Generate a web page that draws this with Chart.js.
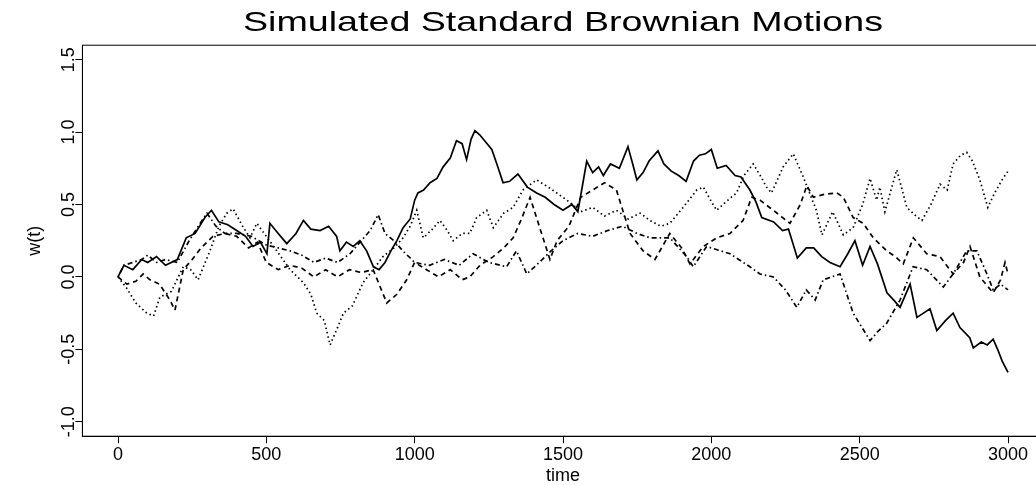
<!DOCTYPE html>
<html>
<head>
<meta charset="utf-8">
<script src="https://cdn.jsdelivr.net/npm/chart.js@4.4.0/dist/chart.umd.min.js"></script>
<style>
  html, body { margin: 0; padding: 0; background: #fff; overflow: hidden; }
  #wrap { width: 1050px; height: 485px; }
</style>
</head>
<body>
<div id="wrap"><canvas id="chartBM" width="1050" height="485"></canvas></div>
<script>
// values (time, w(t)), one pair of arrays per path
const solidTime = [0, 20, 50, 80, 100, 130, 160, 200, 230, 260, 293, 315, 340, 370, 400, 430, 455, 480, 502, 512, 540, 569, 600, 625, 650, 681, 710, 737, 748, 770, 793, 815, 838, 861, 880, 900, 920, 940, 961, 985, 1000, 1011, 1030, 1052, 1075, 1096, 1120, 1141, 1160, 1175, 1190, 1203, 1220, 1240, 1260, 1277, 1298, 1320, 1348, 1380, 1411, 1440, 1470, 1500, 1530, 1550, 1563, 1580, 1600, 1620, 1636, 1660, 1690, 1719, 1735, 1749, 1770, 1790, 1820, 1840, 1865, 1890, 1915, 1940, 1960, 1980, 2000, 2020, 2050, 2080, 2100, 2130, 2150, 2170, 2210, 2240, 2260, 2290, 2320, 2345, 2372, 2400, 2434, 2460, 2484, 2510, 2535, 2560, 2592, 2615, 2636, 2670, 2693, 2715, 2737, 2760, 2790, 2815, 2838, 2871, 2883, 2910, 2930, 2950, 2965, 2980, 3000]
const solidW = [0, 0.08, 0.05, 0.12, 0.1, 0.14, 0.08, 0.12, 0.27, 0.3, 0.41, 0.46, 0.38, 0.36, 0.32, 0.28, 0.21, 0.24, 0.16, 0.37, 0.3, 0.23, 0.3, 0.39, 0.33, 0.32, 0.35, 0.28, 0.18, 0.24, 0.21, 0.25, 0.18, 0.07, 0.05, 0.1, 0.18, 0.25, 0.34, 0.4, 0.53, 0.58, 0.6, 0.65, 0.68, 0.76, 0.82, 0.94, 0.92, 0.81, 0.95, 1.01, 0.98, 0.93, 0.88, 0.78, 0.65, 0.66, 0.71, 0.62, 0.58, 0.55, 0.5, 0.46, 0.5, 0.45, 0.6, 0.8, 0.72, 0.76, 0.7, 0.78, 0.75, 0.9, 0.78, 0.67, 0.72, 0.8, 0.87, 0.78, 0.73, 0.7, 0.66, 0.8, 0.84, 0.85, 0.88, 0.75, 0.77, 0.7, 0.69, 0.6, 0.52, 0.41, 0.38, 0.32, 0.33, 0.13, 0.2, 0.2, 0.14, 0.1, 0.07, 0.16, 0.25, 0.08, 0.21, 0.09, -0.11, -0.16, -0.21, -0.05, -0.28, -0.25, -0.22, -0.37, -0.3, -0.25, -0.35, -0.42, -0.49, -0.45, -0.47, -0.43, -0.5, -0.58, -0.66]

const dashTime = [0, 30, 60, 85, 108, 140, 175, 192, 220, 250, 280, 320, 360, 400, 440, 470, 500, 540, 580, 620, 660, 700, 740, 780, 820, 860, 890, 906, 940, 973, 1000, 1040, 1080, 1120, 1160, 1186, 1220, 1265, 1300, 1332, 1360, 1389, 1420, 1456, 1480, 1520, 1560, 1600, 1640, 1680, 1726, 1770, 1810, 1860, 1900, 1928, 1973, 2018, 2063, 2107, 2136, 2164, 2209, 2265, 2300, 2322, 2344, 2380, 2423, 2445, 2478, 2512, 2546, 2591, 2620, 2647, 2681, 2726, 2771, 2815, 2850, 2872, 2905, 2950, 2975, 2990, 3000]
const dashW = [0, -0.05, -0.03, 0.02, -0.02, -0.05, -0.16, -0.23, 0.05, 0.12, 0.2, 0.28, 0.3, 0.28, 0.2, 0.24, 0.1, 0.05, 0.08, 0.06, 0, 0.05, 0, 0.05, 0.03, 0.05, -0.1, -0.18, -0.12, -0.02, 0.1, 0.05, 0, 0.05, -0.02, 0, 0.08, 0.14, 0.2, 0.27, 0.4, 0.55, 0.35, 0.12, 0.25, 0.35, 0.55, 0.6, 0.65, 0.6, 0.3, 0.18, 0.12, 0.3, 0.2, 0.09, 0.21, 0.27, 0.3, 0.39, 0.55, 0.53, 0.46, 0.37, 0.5, 0.63, 0.55, 0.57, 0.58, 0.55, 0.41, 0.37, 0.27, 0.18, 0.14, 0.09, 0.27, 0.16, 0.14, 0.02, 0.1, 0.21, 0, -0.11, -0.02, 0.1, 0.02]

const dotTime = [0, 30, 60, 97, 120, 141, 180, 220, 245, 270, 310, 340, 367, 388, 420, 445, 468, 500, 535, 580, 625, 650, 670, 695, 715, 740, 760, 790, 826, 860, 893, 930, 961, 985, 1007, 1029, 1060, 1085, 1110, 1130, 1160, 1186, 1209, 1243, 1265, 1300, 1332, 1365, 1411, 1450, 1479, 1520, 1560, 1600, 1640, 1680, 1720, 1760, 1793, 1830, 1860, 1905, 1951, 1973, 2000, 2018, 2050, 2085, 2110, 2141, 2165, 2186, 2203, 2242, 2276, 2310, 2354, 2373, 2409, 2445, 2478, 2510, 2535, 2557, 2568, 2585, 2625, 2659, 2690, 2710, 2740, 2771, 2795, 2815, 2840, 2861, 2880, 2905, 2932, 2955, 2983, 3000]
const dotW = [0, -0.08, -0.18, -0.25, -0.27, -0.14, -0.1, 0.07, 0.05, -0.02, 0.18, 0.35, 0.44, 0.47, 0.35, 0.27, 0.37, 0.28, 0.18, 0.05, -0.04, -0.12, -0.25, -0.3, -0.47, -0.35, -0.25, -0.2, -0.04, 0.05, 0.14, 0.2, 0.27, 0.35, 0.46, 0.27, 0.33, 0.39, 0.32, 0.25, 0.3, 0.3, 0.41, 0.46, 0.34, 0.44, 0.48, 0.6, 0.67, 0.62, 0.58, 0.52, 0.45, 0.48, 0.42, 0.46, 0.4, 0.44, 0.39, 0.35, 0.37, 0.48, 0.6, 0.62, 0.52, 0.46, 0.52, 0.58, 0.7, 0.78, 0.7, 0.62, 0.58, 0.76, 0.85, 0.69, 0.46, 0.29, 0.45, 0.29, 0.34, 0.5, 0.68, 0.53, 0.62, 0.45, 0.74, 0.48, 0.42, 0.39, 0.5, 0.64, 0.6, 0.78, 0.84, 0.86, 0.8, 0.67, 0.48, 0.58, 0.68, 0.73]

const dotDashTime = [0, 20, 50, 80, 100, 130, 160, 200, 240, 280, 300, 330, 360, 400, 450, 500, 540, 580, 620, 660, 700, 740, 782, 820, 850, 877, 900, 930, 960, 1000, 1050, 1100, 1150, 1197, 1250, 1310, 1343, 1378, 1420, 1460, 1500, 1550, 1600, 1650, 1700, 1750, 1793, 1860, 1917, 1939, 1984, 2063, 2130, 2164, 2209, 2250, 2288, 2320, 2350, 2377, 2434, 2478, 2535, 2560, 2591, 2636, 2680, 2726, 2782, 2815, 2861, 2895, 2929, 2950, 2975, 3000]
const dotDashW = [0, 0.08, 0.1, 0.12, 0.15, 0.1, 0.12, 0.1, 0.25, 0.38, 0.44, 0.35, 0.3, 0.3, 0.28, 0.22, 0.2, 0.18, 0.15, 0.1, 0.13, 0.1, 0.16, 0.25, 0.32, 0.43, 0.3, 0.25, 0.18, 0.1, 0.08, 0.12, 0.08, 0.16, 0.1, 0.07, 0.18, 0.02, 0.1, 0.18, 0.25, 0.3, 0.28, 0.32, 0.35, 0.3, 0.27, 0.27, 0.14, 0.07, 0.21, 0.16, 0.07, 0.02, 0, -0.09, -0.21, -0.09, -0.16, -0.02, 0.02, -0.25, -0.44, -0.38, -0.32, -0.16, 0.07, 0.05, -0.07, 0.02, 0.18, 0.18, 0.02, -0.09, -0.05, -0.09]

const xTicks = [0, 500, 1000, 1500, 2000, 2500, 3000]
const yTickStep = 0.5
const titleText = 'Simulated Standard Brownian Motions'
const fontFam = '"Liberation Sans", Arial, Helvetica, sans-serif'

const toPoints = (ts, ws) => ts.map((t, i) => ({x: t, y: ws[i]}))

// box round the plot, the (wide) title, and y tick labels written along the axis
const boxAndLabels = {
  id: 'boxAndLabels',
  afterDraw(chart) {
    const {ctx, chartArea: a, scales: {y}} = chart
    ctx.save()
    ctx.strokeStyle = '#000'
    ctx.lineWidth = 1
    ctx.strokeRect(a.left, a.top, a.right - a.left, a.bottom - a.top)
    ctx.fillStyle = '#000'

    // title is wider than the font in the original
    ctx.font = '28px ' + fontFam
    ctx.textAlign = 'center'
    ctx.textBaseline = 'alphabetic'
    const w = ctx.measureText(titleText).width
    ctx.save()
    ctx.translate((a.left + a.right) / 2, 31)
    ctx.scale(640 / w, 1)
    ctx.fillText(titleText, 0, 0)
    ctx.restore()

    ctx.font = '18px ' + fontFam
    ctx.textBaseline = 'middle'
    y.ticks.forEach(t => {
      ctx.save()
      ctx.translate(69, y.getPixelForValue(t.value))
      ctx.rotate(-Math.PI / 2)
      ctx.fillText(t.label, 0, 0)
      ctx.restore()
    })
    ctx.restore()
  }
}

const lineSet = (label, pts, dash) => ({
  label: label,
  data: pts,
  borderColor: '#000',
  borderWidth: 1.7,
  borderDash: dash,
  pointRadius: 0,
  tension: 0,
  fill: false
})

const chartBM = {
  type: 'line',
  data: {
    datasets: [
      lineSet('solid', toPoints(solidTime, solidW), []),
      lineSet('dashed', toPoints(dashTime, dashW), [5, 4]),
      lineSet('dotted', toPoints(dotTime, dotW), [1.5, 3]),
      lineSet('dotdash', toPoints(dotDashTime, dotDashW), [1.5, 3, 5, 3])
    ]
  },
  options: {
    responsive: false,
    animation: false,
    layout: { padding: { left: 0, right: 6.4, top: 45.2, bottom: 0 } },
    plugins: {
      legend: { display: false },
      tooltip: { enabled: false },
      title: { display: false }
    },
    scales: {
      x: {
        type: 'linear',
        min: -120,
        max: 3120,
        afterFit: s => { s.height = 48.8 },
        afterBuildTicks: s => { s.ticks = xTicks.map(v => ({ value: v })) },
        grid: { drawOnChartArea: false, drawTicks: true, tickLength: 7, color: '#000' },
        border: { display: true, color: '#000', width: 1 },
        ticks: {
          maxRotation: 0, padding: 1, autoSkip: false,
          color: '#000', font: { family: fontFam, size: 18 },
          callback: v => String(v)
        },
        title: {
          display: true, text: 'time', color: '#000',
          font: { family: fontFam, size: 18, lineHeight: 1 },
          padding: { top: 0, bottom: 0 }
        }
      },
      y: {
        type: 'linear',
        min: -1.1,
        max: 1.6,
        afterFit: s => { s.width = 82.4 },
        grid: { drawOnChartArea: false, drawTicks: true, tickLength: 7, color: '#000' },
        border: { display: true, color: '#000', width: 1 },
        ticks: {
          display: false, stepSize: yTickStep, includeBounds: false,
          callback: v => v.toFixed(1)
        },
        title: {
          display: true, text: 'w(t)', color: '#000',
          font: { family: fontFam, size: 18, lineHeight: 1.2 },
          padding: { top: 24.2, bottom: 0 }
        }
      }
    }
  },
  plugins: [boxAndLabels]
}

window.onload = () => {
  new Chart(document.getElementById('chartBM'), chartBM)
}
</script>
</body>
</html>
